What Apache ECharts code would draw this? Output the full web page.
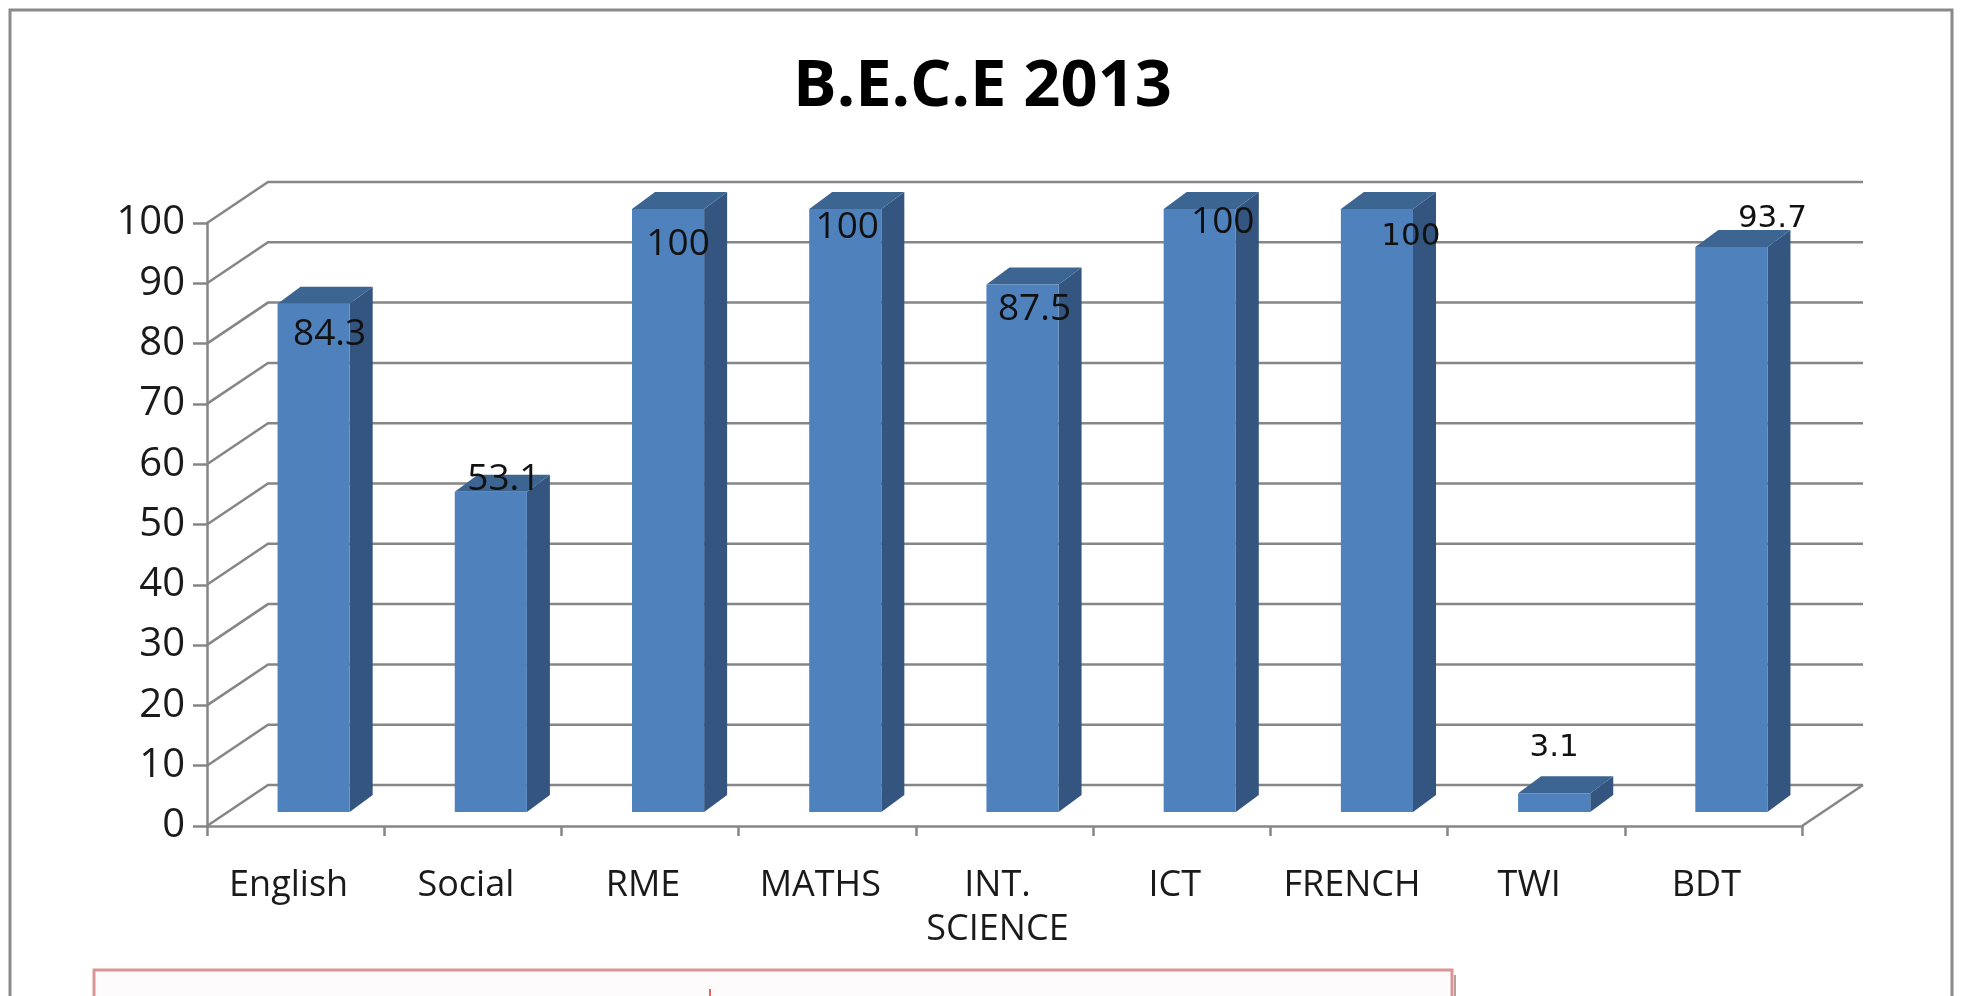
<!DOCTYPE html>
<html>
<head>
<meta charset="utf-8">
<title>B.E.C.E 2013</title>
<script src="https://cdn.jsdelivr.net/npm/echarts@6/dist/echarts.min.js"></script>
<style>
  html, body { margin: 0; padding: 0; background: #fff; }
  #chart { width: 1965px; height: 996px; }
</style>
</head>
<body>
<div id="chart"></div>
<script>
// values
var subjects = ['English', 'Social', 'RME', 'MATHS', 'INT.\nSCIENCE', 'ICT', 'FRENCH', 'TWI', 'BDT'];
var passRate = [84.3, 53.1, 100, 100, 87.5, 100, 100, 3.1, 93.7];
var yTicks = [0, 10, 20, 30, 40, 50, 60, 70, 80, 90, 100];

// fake 3d look (pixels)
var WALL_DX = 61, WALL_DY = -41;    // back wall
var BAR_DX = 18, BAR_DY = -14;      // bar front plane
var DEPTH_DX = 23, DEPTH_DY = -17;  // bar thickness
var BAR_FRAC = 0.407;
var GRID_COLOR = '#868686';

// data labels sit a bit all over the place in the original
var labelNudge = [[16, 31], [13, -12], [10, 35], [2, 18], [12, 25], [23, 13], [34, 28], [0, -45], [41, -28]];
var labelFamily = ['Open Sans', 'Open Sans', 'Open Sans', 'Open Sans', 'Open Sans', 'Open Sans', 'DejaVu Sans', 'DejaVu Sans', 'DejaVu Sans'];

var chart = echarts.init(document.getElementById('chart'), null, { renderer: 'canvas' });

function renderWall(params, api) {
  var v = api.value(1);
  var cs = params.coordSys;
  var y = api.coord([0, v])[1];
  var xl = cs.x, xr = cs.x + cs.width;
  var children = [{
    type: 'polyline',
    shape: { points: [[xl, y], [xl + WALL_DX, y + WALL_DY], [xr + WALL_DX, y + WALL_DY]] },
    style: { stroke: GRID_COLOR, lineWidth: 2.5, fill: null }
  }];
  if (v === 0) {
    children.push({
      type: 'line',
      shape: { x1: xr, y1: y, x2: xr + WALL_DX, y2: y + WALL_DY },
      style: { stroke: GRID_COLOR, lineWidth: 2.5 }
    });
  }
  return { type: 'group', children: children };
}

function renderBar(params, api) {
  var i = api.value(0), v = api.value(1);
  var top = api.coord([i, v]);
  var base = api.coord([i, 0]);
  var band = api.size([1, 0])[0];
  var w = band * BAR_FRAC;
  var x0 = top[0] - w / 2 + BAR_DX;
  var x1 = x0 + w;
  var yT = top[1] + BAR_DY;
  var yB = base[1] + BAR_DY;
  var nudge = labelNudge[i];
  var fam = labelFamily[i];
  return {
    type: 'group',
    children: [
      {
        type: 'polygon',
        shape: { points: [[x1, yT], [x1 + DEPTH_DX, yT + DEPTH_DY], [x1 + DEPTH_DX, yB + DEPTH_DY], [x1, yB]] },
        style: { fill: '#33557F' }
      },
      {
        type: 'polygon',
        shape: { points: [[x0, yT], [x1, yT], [x1 + DEPTH_DX, yT + DEPTH_DY], [x0 + DEPTH_DX, yT + DEPTH_DY]] },
        style: { fill: '#3D6592' }
      },
      {
        type: 'rect',
        shape: { x: x0, y: yT, width: w, height: yB - yT },
        style: { fill: '#4F81BD' }
      },
      {
        type: 'text',
        z2: 10,
        style: {
          text: String(v),
          x: (x0 + x1) / 2 + nudge[0],
          y: yT + nudge[1],
          align: 'center',
          verticalAlign: 'middle',
          fill: '#111',
          fontSize: fam === 'DejaVu Sans' ? 31 : 37,
          fontFamily: fam
        }
      }
    ]
  };
}

var option = {
  backgroundColor: '#fff',
  animation: false,
  title: {
    text: 'B.E.C.E 2013',
    left: 'center',
    top: 50,
    textStyle: {
      fontFamily: 'Open Sans',
      fontWeight: 'bold',
      fontSize: 65,
      color: '#000'
    }
  },
  grid: {
    left: 207,
    top: 223,
    width: 1595,
    height: 603
  },
  xAxis: {
    type: 'category',
    data: subjects,
    boundaryGap: true,
    axisLine: { lineStyle: { color: GRID_COLOR, width: 2.5 } },
    axisTick: { show: true, interval: 0, length: 10, lineStyle: { color: GRID_COLOR, width: 2.5 } },
    axisLabel: {
      interval: 0,
      margin: 38,
      fontFamily: 'Open Sans',
      fontSize: 36,
      lineHeight: 44,
      padding: [0, 14, 0, 0],
      color: '#1a1a1a',
      verticalAlign: 'top'
    },
    splitLine: { show: false }
  },
  yAxis: {
    type: 'value',
    min: 0,
    max: 100,
    interval: 10,
    axisLine: { show: true, lineStyle: { color: GRID_COLOR, width: 2.5 } },
    axisTick: { show: true, length: 14, lineStyle: { color: GRID_COLOR, width: 2.5 } },
    axisLabel: {
      margin: 22,
      fontFamily: 'Open Sans',
      fontSize: 40,
      color: '#1a1a1a'
    },
    splitLine: { show: false }
  },
  series: [
    {
      type: 'custom',
      name: 'walls',
      z: 1,
      silent: true,
      renderItem: renderWall,
      data: yTicks.map(function (v) { return [0, v]; })
    },
    {
      type: 'custom',
      name: 'pass rate',
      z: 5,
      renderItem: renderBar,
      data: passRate.map(function (v, i) { return [i, v]; })
    }
  ],
  graphic: [
    {
      type: 'rect',
      z: -10,
      shape: { x: 10, y: 10, width: 1942, height: 1010 },
      style: { fill: null, stroke: '#8a8a8a', lineWidth: 3 }
    },
    {
      type: 'rect',
      shape: { x: 94, y: 970, width: 1358, height: 40 },
      style: { fill: '#fdfbfb', stroke: '#d99694', lineWidth: 3 }
    },
    {
      type: 'line',
      shape: { x1: 1455, y1: 975, x2: 1455, y2: 996 },
      style: { stroke: '#b5a0a0', lineWidth: 2 }
    },
    {
      type: 'line',
      shape: { x1: 710, y1: 989, x2: 710, y2: 996 },
      style: { stroke: '#e03030', lineWidth: 1.5 }
    }
  ]
};

chart.setOption(option);
</script>
</body>
</html>
